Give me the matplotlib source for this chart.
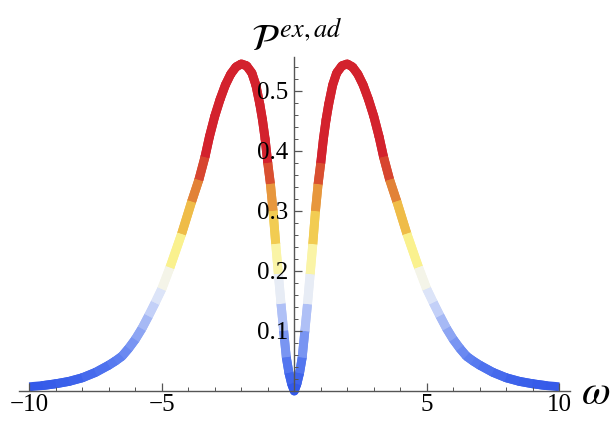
import matplotlib
matplotlib.use("Agg")
import matplotlib.pyplot as plt
import numpy as np
from matplotlib.collections import LineCollection
from matplotlib.colors import LinearSegmentedColormap

# right half of the curve (the plot is symmetric in omega)
omega_right = [0.0, 0.1, 0.2, 0.3, 0.4, 0.5, 0.6, 0.7, 0.8, 0.9, 1.0, 1.1,
               1.2, 1.3, 1.45, 1.6, 1.8, 2.0, 2.2, 2.4, 2.6, 2.8, 3.0, 3.2,
               3.37, 3.6, 3.87, 4.25, 4.69, 5.0, 5.25, 5.5, 5.75, 6.0, 6.25,
               6.5, 6.75, 7.0, 7.5, 8.0, 8.5, 9.0, 9.5, 10.0]
p_right = [0.0, 0.012, 0.03, 0.056, 0.1, 0.145, 0.195, 0.245, 0.3, 0.345,
           0.38, 0.42, 0.452, 0.478, 0.51, 0.53, 0.542, 0.545, 0.54, 0.528,
           0.51, 0.486, 0.458, 0.424, 0.39, 0.352, 0.316, 0.262, 0.206,
           0.17, 0.147, 0.125, 0.104, 0.086, 0.071, 0.058, 0.05, 0.043,
           0.031, 0.022, 0.016, 0.012, 0.009, 0.007]

# colour stops along the P value
stop_p = [0.0, 0.05, 0.10, 0.14, 0.165, 0.19, 0.21, 0.235, 0.25, 0.28,
          0.31, 0.33, 0.35, 0.375, 0.39, 0.56]
stop_c = ["#2f55e8", "#5a7df0", "#93aaf3", "#c8d4f8", "#e4eaf8", "#f6f6e6",
          "#faf6b8", "#faf08a", "#f7e468", "#f0c44a", "#ecad45", "#e48a38",
          "#dc5e32", "#d6402e", "#d3222d", "#d3222d"]

x_major = [-10, -5, 5, 10]
x_labels = ["\u221210", "\u22125", "5", "10"]
y_major = [0.1, 0.2, 0.3, 0.4, 0.5]
y_labels = ["0.1", "0.2", "0.3", "0.4", "0.5"]


def main():
    w = np.concatenate([-np.array(omega_right[::-1]), np.array(omega_right[1:])])
    p = np.concatenate([np.array(p_right[::-1]), np.array(p_right[1:])])

    pmax = stop_p[-1]
    cmap = LinearSegmentedColormap.from_list(
        "temp", [(s / pmax, c) for s, c in zip(stop_p, stop_c)])

    fig = plt.figure(figsize=(6.11, 4.22), dpi=100)
    ax = fig.add_axes([0.0306, 0.0735, 0.902, 0.792])
    ax.set_xlim(-10.4, 10.4)
    ax.set_ylim(0, 0.557)
    ax.set_axisbelow(False)

    pts = np.column_stack([w, p]).reshape(-1, 1, 2)
    segs = np.concatenate([pts[:-1], pts[1:]], axis=1)
    mid = (p[:-1] + p[1:]) / 2
    cols = cmap(mid / pmax)
    # round-capped layer fills the joins, butt-capped layer on top keeps
    # the colour bands clean
    lc1 = LineCollection(segs[1:-1], colors=cols[1:-1], linewidths=6.4,
                         capstyle="round", clip_on=False, zorder=1.8)
    lc2 = LineCollection(segs, colors=cols, linewidths=6.4,
                         capstyle="butt", clip_on=False, zorder=1.9)
    ax.add_collection(lc1)
    ax.add_collection(lc2)

    for side in ["top", "right"]:
        ax.spines[side].set_visible(False)
    ax.spines["left"].set_position(("data", 0))
    ax.spines["bottom"].set_position(("data", 0))
    for side in ["left", "bottom"]:
        ax.spines[side].set_color("#555555")
        ax.spines[side].set_linewidth(1.0)
        ax.spines[side].set_zorder(3)

    serif = "Liberation Serif"
    ax.set_xticks(x_major)
    ax.set_xticklabels(x_labels, family=serif, fontsize=18)
    ax.set_xticks(np.arange(-10, 11, 1), minor=True)
    ax.set_yticks(y_major)
    ax.set_yticklabels(y_labels, family=serif, fontsize=18)
    ax.set_yticks(np.arange(0.02, 0.56, 0.02), minor=True)
    ax.tick_params(axis="both", which="major", direction="in", length=5.5,
                   width=0.9, color="#555555")
    ax.tick_params(axis="both", which="minor", direction="in", length=3,
                   width=0.7, color="#555555")
    ax.tick_params(axis="x", which="major", pad=2)
    ax.tick_params(axis="y", which="major", pad=4)

    plt.rcParams["mathtext.fontset"] = "stix"
    fig.text(0.485, 0.905, r"$\mathcal{P}^{\,ex,ad}$", fontsize=27,
             ha="center", va="center")
    fig.text(0.975, 0.07, r"$\omega$", fontsize=30, ha="center",
             va="center")

    fig.savefig("out.png", dpi=100)


if __name__ == "__main__":
    main()
